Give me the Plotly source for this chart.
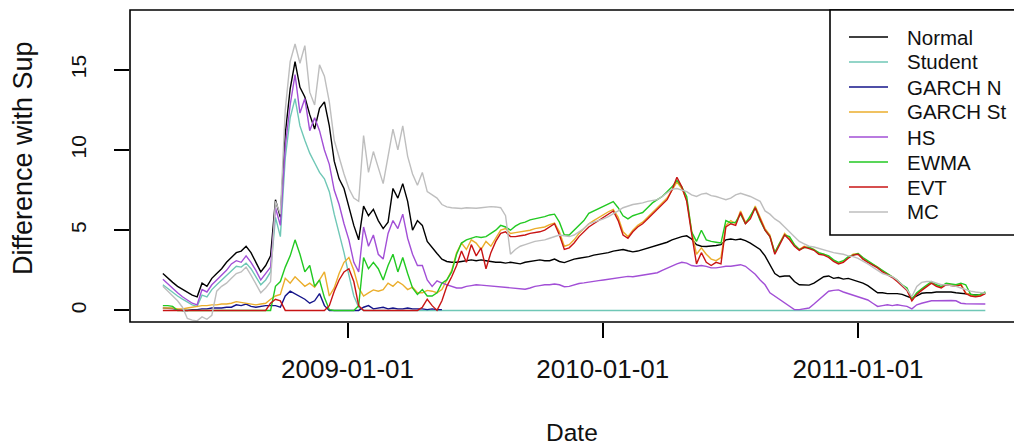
import pandas as pd
import plotly.graph_objects as go

# Weekly observation dates (first observation and step)
START_DATE = "2008-04-12"
N_OBS = 169
dates = pd.date_range(START_DATE, periods=N_OBS, freq="7D")

NORMAL = [
    2.3, 2.0, 1.75, 1.5, 1.3, 1.1, 0.95, 0.85, 1.7, 1.5,
    2.0, 2.3, 2.6, 3.0, 3.3, 3.6, 3.7, 4.0, 3.6, 3.0,
    2.4, 2.8, 3.4, 6.9, 5.8, 11.0, 13.8, 15.5, 13.9, 13.3,
    12.2, 11.3, 12.6, 13.0, 11.5, 9.3, 8.2, 7.6, 6.4, 5.3,
    4.4, 6.5, 5.9, 6.3, 5.6, 5.1, 5.5, 7.6, 7.0, 7.9,
    6.8, 5.0, 5.6, 5.3, 4.3, 3.9, 3.55, 3.2, 3.05, 3.0,
    3.0, 3.05, 3.1, 3.15, 3.1, 3.15, 3.1, 3.05, 3.0, 3.0,
    2.95, 3.0, 2.95, 2.9, 3.0, 3.05, 3.1, 3.15, 3.1, 3.1,
    3.2, 3.05, 2.98, 3.1, 3.2, 3.25, 3.3, 3.35, 3.45, 3.5,
    3.55, 3.6, 3.7, 3.75, 3.8, 3.72, 3.65, 3.7, 3.8, 3.85,
    3.95, 4.05, 4.15, 4.25, 4.4, 4.5, 4.6, 4.65, 4.45, 4.1,
    4.0, 3.98, 4.0, 4.05, 4.1, 4.4, 4.45, 4.4, 4.45, 4.35,
    4.2, 4.0, 3.8, 3.4, 2.8, 2.3, 2.1, 2.15, 2.15, 1.8,
    1.6, 1.6, 1.58, 1.7, 1.9, 2.1, 2.15, 2.0, 2.05, 1.95,
    2.0, 1.9, 1.8, 1.7, 1.55, 1.35, 1.1, 1.1, 1.05, 1.05,
    1.05, 1.0, 0.9, 0.76, 0.9, 1.07, 1.1, 1.1, 1.15, 1.15,
    1.17, 1.15, 1.1, 1.07, 1.05, 1.0, 0.97, 1.0, 1.07,
]

STUDENT = [
    1.6, 1.35, 1.1, 0.9, 0.7, 0.5, 0.35, 0.25, 0.95, 0.85,
    1.3, 1.6, 1.9, 2.2, 2.5, 2.75, 2.7, 2.95, 2.6, 2.1,
    1.6, 1.9, 2.4, 5.8, 4.6, 9.5, 12.0, 13.2, 11.5, 10.6,
    9.8, 9.2, 8.6, 8.2, 7.4, 6.0, 4.8, 3.6, 2.2, 0.9,
    0.2, 0.0, 0.0, 0.0, 0.0, 0.0, 0.0, 0.0, 0.0, 0.0,
    0.0, 0.0, 0.0, 0.0, 0.0, 0.0, 0.0, 0.0, 0.0, 0.0,
    0.0, 0.0, 0.0, 0.0, 0.0, 0.0, 0.0, 0.0, 0.0, 0.0,
    0.0, 0.0, 0.0, 0.0, 0.0, 0.0, 0.0, 0.0, 0.0, 0.0,
    0.0, 0.0, 0.0, 0.0, 0.0, 0.0, 0.0, 0.0, 0.0, 0.0,
    0.0, 0.0, 0.0, 0.0, 0.0, 0.0, 0.0, 0.0, 0.0, 0.0,
    0.0, 0.0, 0.0, 0.0, 0.0, 0.0, 0.0, 0.0, 0.0, 0.0,
    0.0, 0.0, 0.0, 0.0, 0.0, 0.0, 0.0, 0.0, 0.0, 0.0,
    0.0, 0.0, 0.0, 0.0, 0.0, 0.0, 0.0, 0.0, 0.0, 0.0,
    0.0, 0.0, 0.0, 0.0, 0.0, 0.0, 0.0, 0.0, 0.0, 0.0,
    0.0, 0.0, 0.0, 0.0, 0.0, 0.0, 0.0, 0.0, 0.0, 0.0,
    0.0, 0.0, 0.0, 0.0, 0.0, 0.0, 0.0, 0.0, 0.0, 0.0,
    0.0, 0.0, 0.0, 0.0, 0.0, 0.0, 0.0, 0.0, 0.0,
]

# GARCH with normal innovations: only available for the first part of the sample
GARCH_N = [
    0.15, 0.15, 0.12, 0.05, 0.0, 0.0, 0.05, 0.05, 0.1, 0.1,
    0.15, 0.15, 0.15, 0.2, 0.2, 0.35, 0.3, 0.4, 0.25, 0.2,
    0.25, 0.3, 0.3, 0.3, 0.2, 0.9, 1.2, 1.05, 0.9, 0.7,
    0.45, 0.6, 1.05, 0.3, 0.0, 0.0, 0.0, 0.0, 0.0, 0.0,
    0.0, 0.2, 0.3, 0.1, 0.15, 0.2, 0.1, 0.15, 0.1, 0.1,
    0.15, 0.1, 0.1, 0.1, 0.05, 0.1, 0.05, 0.05,
]

GARCH_ST = [
    0.15, 0.15, 0.15, 0.1, 0.1, 0.15, 0.2, 0.25, 0.3, 0.3,
    0.35, 0.35, 0.4, 0.4, 0.45, 0.55, 0.5, 0.45, 0.4, 0.35,
    0.4, 0.45, 0.7, 0.9, 1.0, 2.0, 1.7, 2.1, 1.8, 1.5,
    1.7, 1.45, 1.9, 2.4, 0.9, 1.4, 2.3, 3.0, 3.3, 2.5,
    1.4, 0.9, 1.1, 1.28, 1.2, 1.3, 1.7, 1.5, 1.8, 1.6,
    1.3, 1.45, 1.1, 1.1, 1.25, 1.2, 1.1, 1.3, 1.9, 2.5,
    3.6, 4.2, 3.8, 4.4, 4.2, 3.8, 4.3, 4.0, 4.5, 5.0,
    5.1, 4.8, 4.85, 4.9, 4.95, 5.0, 5.1, 5.15, 5.2, 5.35,
    5.45, 4.9, 4.0, 4.1, 4.4, 4.8, 5.1, 5.4, 5.6, 5.8,
    6.0, 6.15, 6.3, 5.8, 4.9, 4.6, 5.0, 5.3, 5.5, 5.8,
    6.1, 6.4, 6.7, 7.0, 7.5, 8.0, 7.6, 6.9, 5.0, 3.5,
    3.9, 3.5, 3.2, 3.1, 3.3, 5.3, 5.6, 5.4, 6.2, 5.5,
    5.8, 6.5, 5.8, 5.1, 4.7, 3.6, 4.2, 4.8, 4.5, 4.1,
    3.8, 4.0, 3.9, 3.8, 3.55, 3.5, 3.35, 3.1, 2.95, 3.05,
    3.3, 3.5, 3.55, 3.25, 3.05, 2.9, 2.7, 2.45, 2.3, 2.1,
    1.85, 1.55, 1.3, 0.65, 1.05, 1.3, 1.55, 1.75, 1.55, 1.45,
    1.65, 1.6, 1.55, 1.65, 1.1, 0.95, 0.9, 0.95, 1.1,
]

HS = [
    1.95, 1.65, 1.35, 1.1, 0.85, 0.65, 0.45, 0.35, 1.3, 1.15,
    1.6, 1.9, 2.2, 2.5, 2.9, 3.1, 3.0, 3.4, 3.0, 2.5,
    1.9, 2.3, 2.7, 6.4, 5.3, 10.2, 12.8, 14.7, 12.3, 13.2,
    11.2, 12.0, 11.2, 10.0, 9.1, 7.5, 6.6, 5.4, 4.4, 3.0,
    2.4, 5.2, 4.0, 4.7, 3.5, 3.2, 4.8, 5.6, 5.1, 6.0,
    4.5, 3.5, 2.8, 2.8, 1.9, 1.5, 1.85, 1.7, 1.6, 1.5,
    1.4, 1.4, 1.5, 1.55, 1.6, 1.58, 1.55, 1.5, 1.48, 1.45,
    1.4, 1.38, 1.35, 1.32, 1.32, 1.4, 1.5, 1.55, 1.6, 1.6,
    1.65, 1.6, 1.48, 1.5, 1.6, 1.68, 1.72, 1.78, 1.82, 1.86,
    1.9, 1.95, 2.0, 2.05, 2.1, 2.12, 2.1, 2.15, 2.2, 2.25,
    2.3, 2.35, 2.5, 2.65, 2.8, 2.9, 3.0, 2.95, 2.8, 2.75,
    2.8, 2.75, 2.65, 2.65, 2.7, 2.75, 2.75, 2.8, 2.85, 2.75,
    2.5, 2.25, 1.9, 1.6, 1.1, 0.9, 0.7, 0.5, 0.3, 0.05,
    0.05, 0.1, 0.15, 0.4, 0.65, 0.95, 1.2, 1.25, 1.28, 1.15,
    1.05, 0.95, 0.86, 0.75, 0.65, 0.45, 0.25, 0.3, 0.35, 0.3,
    0.35, 0.3, 0.25, 0.1, 0.35, 0.45, 0.55, 0.6, 0.6, 0.62,
    0.6, 0.62, 0.6, 0.45, 0.42, 0.42, 0.4, 0.4, 0.4,
]

EWMA = [
    0.3, 0.3, 0.25, 0.0, 0.0, 0.0, 0.0, 0.0, 0.0, 0.0,
    0.0, 0.0, 0.0, 0.0, 0.0, 0.0, 0.0, 0.0, 0.0, 0.0,
    0.0, 0.0, 0.0, 1.5, 1.8, 2.7, 3.4, 4.4, 3.5, 2.4,
    2.8, 1.5, 1.9, 0.8, 0.05, 0.0, 0.0, 0.0, 0.0, 0.0,
    0.3, 3.3, 2.6, 3.0, 2.6, 1.9, 2.8, 3.5, 2.4, 3.3,
    2.3, 1.4, 1.0, 1.3, 0.9, 0.9, 1.1, 1.7, 1.9, 2.4,
    3.5, 4.2, 4.4, 4.5, 4.6, 4.55, 4.6, 4.8, 5.0, 5.3,
    5.2, 5.0, 5.25, 5.43, 5.5, 5.64, 5.7, 5.8, 5.85, 5.95,
    6.0, 5.5, 4.7, 4.7, 5.0, 5.3, 5.6, 6.05, 6.2, 6.35,
    6.5, 6.6, 6.78, 6.4, 5.9, 5.7, 5.9, 6.0, 6.1, 6.4,
    6.7, 6.9, 7.1, 7.4, 7.7, 8.1, 7.7, 7.1, 4.9, 4.3,
    5.0, 4.4, 4.3, 4.25, 4.2, 5.6, 5.45, 5.5, 6.0, 5.4,
    5.9, 6.4, 5.6, 5.0, 4.6, 3.6, 4.2, 4.7, 4.6, 4.1,
    3.8, 3.9, 3.95, 3.75, 3.6, 3.5, 3.4, 3.15, 3.0, 3.1,
    3.35, 3.45, 3.55, 3.3, 3.1, 2.9, 2.75, 2.5, 2.3, 2.15,
    1.9, 1.6, 1.4, 0.7, 1.1, 1.35, 1.6, 1.8, 1.6, 1.5,
    1.7, 1.65, 1.6, 1.7, 1.6, 1.0, 0.95, 1.0, 1.15,
]

EVT = [
    0.0, 0.0, 0.0, 0.0, 0.0, 0.0, 0.0, 0.0, 0.0, 0.0,
    0.0, 0.0, 0.0, 0.0, 0.0, 0.0, 0.0, 0.0, 0.0, 0.0,
    0.0, 0.0, 0.45, 0.7, 0.6, 0.0, 0.0, 0.0, 0.0, 0.0,
    0.0, 0.0, 0.0, 0.0, 0.3, 1.2, 1.9, 2.4, 2.6, 1.8,
    0.3, 0.0, 0.0, 0.0, 0.0, 0.0, 0.0, 0.0, 0.0, 0.0,
    0.0, 0.0, 0.0, 0.2, 0.7, 0.3, 0.0, 0.6, 1.5, 2.1,
    2.8, 3.7, 3.0, 4.1, 3.4, 3.9, 2.6, 3.6, 4.3, 4.8,
    4.9, 4.6, 4.6, 4.65, 4.7, 4.8, 4.85, 4.9, 5.0, 5.2,
    5.4, 4.7, 3.8, 3.9, 4.2, 4.6, 4.9, 5.2, 5.4, 5.6,
    5.8, 6.0, 6.2, 5.6, 4.7, 4.5, 4.9, 5.2, 5.4, 5.7,
    6.0, 6.3, 6.6, 6.9, 7.5, 8.3, 7.7, 6.8, 4.8, 2.9,
    3.6, 3.0, 2.8, 3.0, 2.9, 5.2, 5.4, 5.3, 6.1, 5.4,
    5.7, 6.4, 5.7, 5.0, 4.6, 3.5, 4.1, 4.7, 4.4, 4.0,
    3.75, 3.95, 3.85, 3.75, 3.5, 3.45, 3.3, 3.05, 2.9, 3.0,
    3.25, 3.45, 3.5, 3.2, 3.0, 2.85, 2.65, 2.4, 2.25, 2.05,
    1.8, 1.5, 1.25, 0.6, 1.0, 1.25, 1.5, 1.7, 1.5, 1.4,
    1.6, 1.55, 1.5, 1.6, 1.05, 0.9, 0.85, 0.9, 1.05,
]

MC = [
    1.5, 1.2, 0.9, 0.6, 0.2, -0.5, -0.6, -0.65, -0.4, -0.55,
    -0.3, 1.2, 1.5, 1.7, 2.0, 2.3, 2.4, 2.7, 2.2, 1.6,
    1.1, 1.4, 1.8, 6.8, 6.0, 12.5, 15.5, 16.6, 15.4, 16.5,
    13.6, 12.8, 15.3, 14.6, 13.0, 10.6, 9.5, 8.5, 7.6, 7.0,
    6.8, 10.9, 8.6, 9.9, 8.9, 7.9, 9.6, 11.3, 10.0, 11.5,
    9.6, 8.5, 7.8, 8.6, 7.4, 7.2, 7.0, 6.6, 6.45, 6.4,
    6.38, 6.35, 6.4, 6.38, 6.37, 6.4, 6.45, 6.47, 6.45, 6.4,
    5.9, 3.5, 3.8, 4.0, 4.1, 4.2, 4.3, 4.35, 4.4, 4.5,
    4.6, 4.7, 4.65, 4.6, 4.7, 4.9, 5.1, 5.4, 5.5, 5.6,
    5.7, 5.85, 6.0, 6.2, 6.4, 6.5, 6.6, 6.65, 6.7, 6.8,
    6.85, 6.9, 7.1, 7.3, 7.55, 7.6, 7.5, 7.4, 7.2, 7.1,
    7.25, 7.3, 7.15, 7.1, 7.0, 6.9, 7.0, 7.2, 7.3, 7.2,
    7.1, 6.95, 6.8, 6.2, 6.0, 5.7, 5.5, 5.2, 4.9, 4.55,
    4.3, 4.15, 4.0, 3.95, 3.85, 3.77, 3.7, 3.6, 3.55, 3.5,
    3.4, 3.35, 3.25, 3.1, 2.9, 2.7, 2.5, 2.3, 2.2, 2.1,
    1.9, 1.6, 1.3, 0.86, 1.5, 1.75, 1.8, 1.8, 1.7, 1.6,
    1.6, 1.55, 1.5, 1.4, 1.3, 1.2, 1.15, 1.1, 1.07,
]

SERIES_NAMES = ["Normal", "Student", "GARCH N", "GARCH St", "HS", "EWMA", "EVT", "MC"]
SERIES_VALUES = [NORMAL, STUDENT, GARCH_N, GARCH_ST, HS, EWMA, EVT, MC]
LINE_COLORS = ["#000000", "#6FC7B6", "#15158A", "#EBAE2C",
               "#A24FD6", "#22C922", "#C81414", "#BEBEBE"]

X_TICKS = ["2009-01-01", "2010-01-01", "2011-01-01"]
Y_TICKS = [0, 5, 10, 15]

# ---- figure geometry (pixels) ----
W, H = 1014, 446
ML, MR, MT, MB = 130, 0, 10, 124
PW, PH = W - ML - MR, H - MT - MB


def px_x(x):
    return (x - ML) / PW


def px_y(y):
    return (H - MB - y) / PH


FONT = "Liberation Sans, Arial, Helvetica, sans-serif"
INK = "#111111"

fig = go.Figure()
for name, vals, col in zip(SERIES_NAMES, SERIES_VALUES, LINE_COLORS):
    fig.add_trace(go.Scatter(
        x=dates[:len(vals)], y=vals, mode="lines", name=name,
        line=dict(color=col, width=1.4), showlegend=False,
        hoverinfo="x+y+name",
    ))

fig.update_xaxes(
    type="date", range=["2008-02-25", "2011-08-12"],
    tickvals=X_TICKS, ticktext=X_TICKS,
    ticks="outside", ticklen=15, tickwidth=1.5, tickcolor="black",
    tickfont=dict(family=FONT, size=26, color=INK), ticklabelstandoff=9,
    showgrid=False, zeroline=False, showline=False,
)
fig.update_yaxes(
    range=[-0.72, 18.72], tickvals=Y_TICKS, ticktext=[str(v) for v in Y_TICKS],
    ticks="outside", ticklen=15, tickwidth=1.5, tickcolor="black", tickangle=-90,
    tickfont=dict(family=FONT, size=21, color=INK), ticklabelstandoff=20,
    showgrid=False, zeroline=False, showline=False,
)

shapes = [
    # plot frame
    dict(type="rect", xref="paper", yref="paper", x0=0, x1=1.02, y0=0, y1=1,
         line=dict(color="black", width=1.6), fillcolor="rgba(0,0,0,0)", layer="above"),
    # legend box
    dict(type="rect", xref="paper", yref="paper", x0=px_x(830), x1=1.02,
         y0=px_y(235), y1=1, line=dict(color="black", width=1.6),
         fillcolor="white", layer="above"),
]
annotations = []
for k, (name, col) in enumerate(zip(SERIES_NAMES, LINE_COLORS)):
    yk = px_y(37 + 25 * k)
    shapes.append(dict(type="line", xref="paper", yref="paper",
                       x0=px_x(849), x1=px_x(888), y0=yk, y1=yk,
                       line=dict(color=col, width=1.3), layer="above"))
    annotations.append(dict(text=name, xref="paper", yref="paper",
                            x=px_x(905), y=yk, xanchor="left", yanchor="middle",
                            showarrow=False, font=dict(family=FONT, size=20.5, color=INK)))

annotations.append(dict(text="Date", xref="paper", yref="paper",
                        x=px_x(572), y=px_y(432), xanchor="center", yanchor="middle",
                        showarrow=False, font=dict(family=FONT, size=24.5, color=INK)))
annotations.append(dict(text="Difference with Sup", xref="paper", yref="paper",
                        x=px_x(23), y=px_y(158), xanchor="center", yanchor="middle",
                        textangle=-90, showarrow=False,
                        font=dict(family=FONT, size=27, color=INK)))

fig.update_layout(
    width=W, height=H,
    margin=dict(l=ML, r=MR, t=MT, b=MB, pad=0),
    plot_bgcolor="white", paper_bgcolor="white",
    shapes=shapes, annotations=annotations,
)

fig.write_html("out.html")
